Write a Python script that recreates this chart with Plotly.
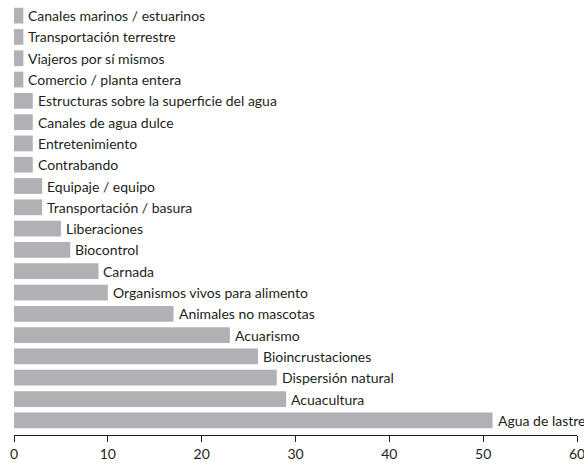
import plotly.graph_objects as go

categories = [
    "Canales marinos / estuarinos",
    "Transportación terrestre",
    "Viajeros por sí mismos",
    "Comercio / planta entera",
    "Estructuras sobre la superficie del agua",
    "Canales de agua dulce",
    "Entretenimiento",
    "Contrabando",
    "Equipaje / equipo",
    "Transportación / basura",
    "Liberaciones",
    "Biocontrol",
    "Carnada",
    "Organismos vivos para alimento",
    "Animales no mascotas",
    "Acuarismo",
    "Bioincrustaciones",
    "Dispersión natural",
    "Acuacultura",
    "Agua de lastre",
]
values = [1, 1, 1, 1, 2, 2, 2, 2, 3, 3, 5, 6, 9, 10, 17, 23, 26, 28, 29, 51]
x_ticks = [0, 10, 20, 30, 40, 50, 60]

fig = go.Figure(go.Bar(
    x=values,
    y=categories,
    orientation="h",
    marker=dict(color="#b1b1b5", line=dict(width=0)),
    width=0.74,
    hoverinfo="x+y",
))

for cat, val in zip(categories, values):
    fig.add_annotation(
        x=val, y=cat, text=cat, showarrow=False,
        xanchor="left", yanchor="middle", xshift=3,
        font=dict(family="Lato", size=14, color="#231f20"),
    )

fig.update_layout(
    width=584,
    height=464,
    margin=dict(l=14, r=7, t=5, b=29),
    plot_bgcolor="white",
    paper_bgcolor="white",
    showlegend=False,
    xaxis=dict(
        range=[0, 60],
        tickvals=x_ticks,
        ticks="outside",
        ticklen=6,
        tickcolor="#231f20",
        showline=True,
        linecolor="#231f20",
        linewidth=1,
        showgrid=False,
        zeroline=False,
        automargin=False,
        ticklabeloverflow="allow",
        tickfont=dict(family="Lato", size=14, color="#231f20"),
    ),
    yaxis=dict(
        type="category",
        range=[19.69, -0.5],
        showticklabels=False,
        showgrid=False,
        zeroline=False,
        showline=False,
        ticks="",
        automargin=False,
    ),
)

fig.write_html(
    "out.html",
    config={"displayModeBar": False},
    post_script="document.body.style.margin='0';document.body.style.padding='0';",
)
